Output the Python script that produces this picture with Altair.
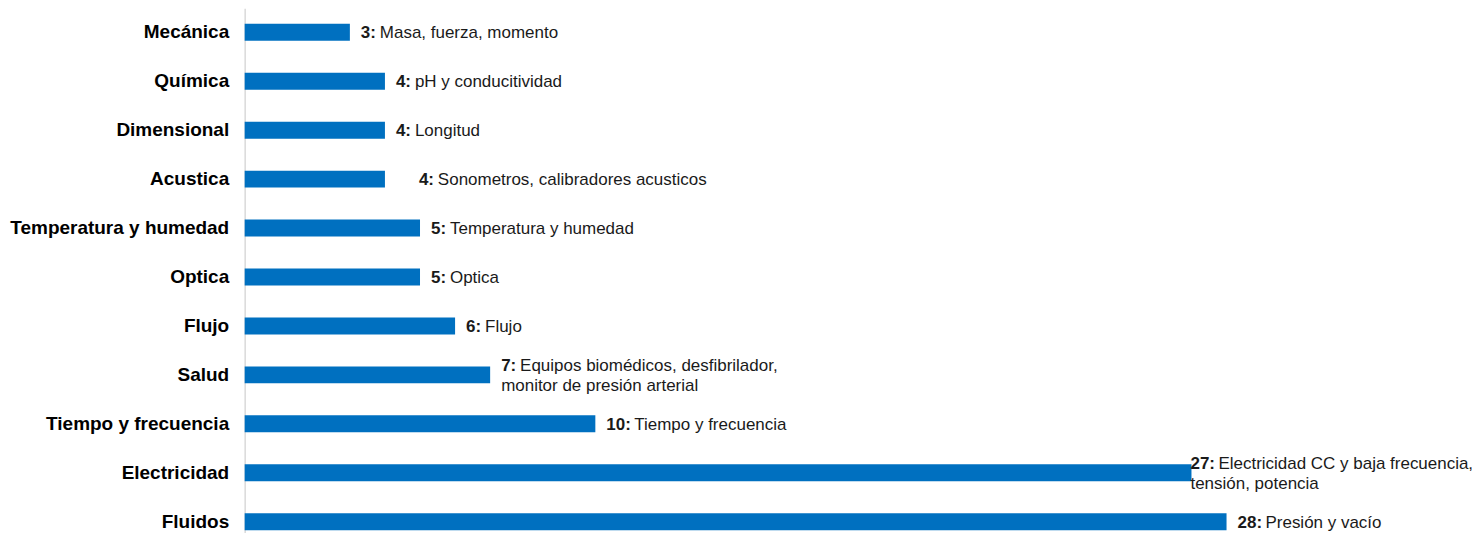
import altair as alt
import pandas as pd

categories = ["Mecánica", "Química", "Dimensional", "Acustica", "Temperatura y humedad",
              "Optica", "Flujo", "Salud", "Tiempo y frecuencia", "Electricidad", "Fluidos"]
values = [3, 4, 4, 4, 5, 5, 6, 7, 10, 27, 28]
desc_line1 = ["Masa, fuerza, momento", "pH  y conducitividad", "Longitud",
              "Sonometros, calibradores acusticos", "Temperatura  y humedad", "Optica",
              "Flujo", "Equipos biomédicos, desfibrilador,", "Tiempo  y frecuencia",
              "Electricidad CC y baja frecuencia,", "Presión y vacío"]
desc_line2 = ["", "", "", "", "", "", "", "monitor de presión arterial", "",
              "tensión, potencia", ""]
# label nudges in pixels (style only)
label_nudge_px = [0, 0, 0, 23, 0, 0, 0, 0, 0, -12, 0]

W, H = 1229, 538
XMAX = 35
ppu = W / XMAX
FONT = "Liberation Sans"

df = pd.DataFrame({
    "cat": categories,
    "val": values,
    "num": [f"{v}:" for v in values],
    "d1": desc_line1,
    "d2": desc_line2,
    "lines": [2 if s else 1 for s in desc_line2],
})
df["num_x"] = [v + (11 + n) / ppu for v, n in zip(values, label_nudge_px)]
df["desc_x"] = [v + (11 + n + (19 if v < 10 else 28)) / ppu
                for v, n in zip(values, label_nudge_px)]

base = alt.Chart(df)
yenc = alt.Y("cat:N", sort=categories, title=None,
             scale=alt.Scale(paddingInner=0.653, paddingOuter=0.316),
             axis=alt.Axis(labelFont=FONT, labelFontSize=19, labelFontWeight="bold",
                           labelColor="#000000", ticks=False, labelPadding=16, labelLimit=0,
                           domainColor="#d9d9d9", domainWidth=1.5, grid=False))
xscale = alt.Scale(domain=[0, XMAX], nice=False)

bars = base.mark_bar(color="#0070c0").encode(
    x=alt.X("val:Q", scale=xscale, axis=None), y=yenc)

def num_layer(dy, nlines):
    return base.transform_filter(alt.datum.lines == nlines).mark_text(
        align="left", baseline="middle", font=FONT, fontSize=17, fontWeight="bold",
        color="#1a1a1a", dy=dy).encode(
            x=alt.X("num_x:Q", scale=xscale, axis=None),
            y=alt.Y("cat:N", sort=categories), text="num:N")

def desc_layer(field, xfield, dy, nlines):
    return base.transform_filter(alt.datum.lines == nlines).mark_text(
        align="left", baseline="middle", font=FONT, fontSize=17,
        color="#1a1a1a", dy=dy).encode(
            x=alt.X(f"{xfield}:Q", scale=xscale, axis=None),
            y=alt.Y("cat:N", sort=categories), text=f"{field}:N")

chart = alt.layer(
    bars,
    num_layer(1, 1), desc_layer("d1", "desc_x", 1, 1),
    num_layer(-9, 2), desc_layer("d1", "desc_x", -9, 2), desc_layer("d2", "num_x", 11, 2),
).properties(
    width=W, height=H,
    background="white",
    autosize=alt.AutoSizeParams(type="none"),
    padding={"left": 237, "top": 0, "right": 0, "bottom": 0},
).configure_view(strokeWidth=0)

chart.save("out.html", embed_options={"renderer": "svg", "actions": False})
